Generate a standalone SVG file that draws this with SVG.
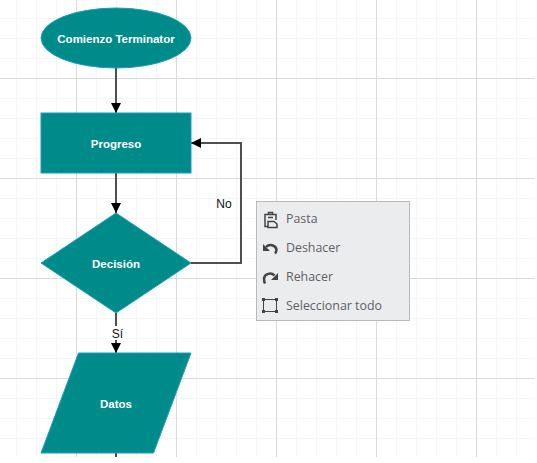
<svg xmlns="http://www.w3.org/2000/svg" width="537" height="463" viewBox="0 0 537 463">
<style>
.minor{stroke:#f5f5f5;stroke-width:1;fill:none}
.major{stroke:#dadada;stroke-width:1;fill:none}
.shape{fill:#008b8b;stroke:#1e9cc4;stroke-width:1}
.conn{stroke:#4f4f4f;stroke-width:2;fill:none}
.lab{font-family:"Liberation Sans",Arial,sans-serif;font-size:11.500px;font-weight:700;fill:#fff;text-anchor:middle}
.edge{font-family:"Liberation Sans",Arial,sans-serif;font-size:12px;fill:#111;text-anchor:middle}
.item{font-family:"Open Sans","Noto Sans",sans-serif;font-size:12.400px;fill:#5f6065}
.ic{fill:none;stroke:#444;stroke-width:1.500}
</style>
<defs>
<marker id="arrow" markerUnits="userSpaceOnUse" markerWidth="12" markerHeight="12" refX="10" refY="6" orient="auto"><path d="M0 1L10 6L0 11Z" fill="#000"/></marker>
</defs>
<rect width="537" height="463" fill="#fff"/>
<g id="grid">
<path class="minor" d="M16.500 0V457M36.500 0V457M56.500 0V457M96.500 0V457M116.500 0V457M136.500 0V457M156.500 0V457M196.500 0V457M216.500 0V457M236.500 0V457M256.500 0V457M296.500 0V457M316.500 0V457M336.500 0V457M356.500 0V457M396.500 0V457M416.500 0V457M436.500 0V457M456.500 0V457M496.500 0V457M516.500 0V457"/>
<path class="minor" d="M0 18.500H535M0 38.500H535M0 58.500H535M0 98.500H535M0 118.500H535M0 138.500H535M0 158.500H535M0 198.500H535M0 218.500H535M0 238.500H535M0 258.500H535M0 298.500H535M0 318.500H535M0 338.500H535M0 358.500H535M0 398.500H535M0 418.500H535M0 438.500H535"/>
<path class="major" d="M76.500 0V457M176.500 0V457M276.500 0V457M376.500 0V457M476.500 0V457M0 78.500H535M0 178.500H535M0 278.500H535M0 378.500H535"/>
</g>
<g id="connectors">
<path class="conn" marker-end="url(#arrow)" d="M116 68V113"/>
<path class="conn" marker-end="url(#arrow)" d="M116 173V213"/>
<path class="conn" marker-end="url(#arrow)" d="M191 263H241V143H191"/>
<path class="conn" marker-end="url(#arrow)" d="M116 313V353"/>
<path class="conn" d="M116 453V457"/>
</g>
<g id="label-no"><text class="edge" x="224" y="208">No</text></g>
<g id="label-si"><rect x="110" y="326" width="14" height="14" fill="#fff"/><text class="edge" x="117.500" y="338">Sí</text></g>
<g id="terminator"><ellipse class="shape" cx="116" cy="38" rx="75" ry="30"/><text class="lab" x="116" y="42.500">Comienzo Terminator</text></g>
<g id="process"><rect class="shape" x="41" y="113" width="150" height="60"/><text class="lab" x="116" y="147.500">Progreso</text></g>
<g id="decision"><path class="shape" d="M116 213L191 263L116 313L41 263Z"/><text class="lab" x="116" y="267.500">Decisión</text></g>
<g id="data"><path class="shape" d="M78.500 353H191L153.500 453H41Z"/><text class="lab" x="116" y="407.500">Datos</text></g>
<g id="context-menu">
<rect x="256.500" y="201.500" width="153" height="119" fill="#ebecee" stroke="#b8b9bb"/>
<g id="menu-paste"><path class="ic" d="M268 226.500H265V214.500H276V220M268.500 214.500V212.500H272.500V214.500M268 217.500H273"/><path class="ic" d="M268 221.500H274L277 224V227.500H268Z"/><text class="item" x="286" y="223">Pasta</text></g>
<g id="menu-undo"><path class="ic" d="M266 247A6 5.500 0 0 1 276.500 249.500Q276.500 252 275 253.500" style="stroke-width:2.500"/><path d="M263 244V251H270Z" fill="#444"/><text class="item" x="286" y="252">Deshacer</text></g>
<g id="menu-redo"><path class="ic" d="M274.500 275.500A6 5.500 0 0 0 264 278.500Q264 281.500 265 283.500" style="stroke-width:2.500"/><path d="M278 273V280H271Z" fill="#444"/><text class="item" x="286" y="281">Rehacer</text></g>
<g id="menu-select"><rect class="ic" x="263.500" y="299.500" width="13" height="12" style="stroke-width:1"/><rect x="262" y="298" width="3" height="3" fill="#444"/><rect x="275" y="298" width="3" height="3" fill="#444"/><rect x="262" y="310" width="3" height="3" fill="#444"/><rect x="275" y="310" width="3" height="3" fill="#444"/><text class="item" x="286" y="310">Seleccionar todo</text></g>
</g>
</svg>
